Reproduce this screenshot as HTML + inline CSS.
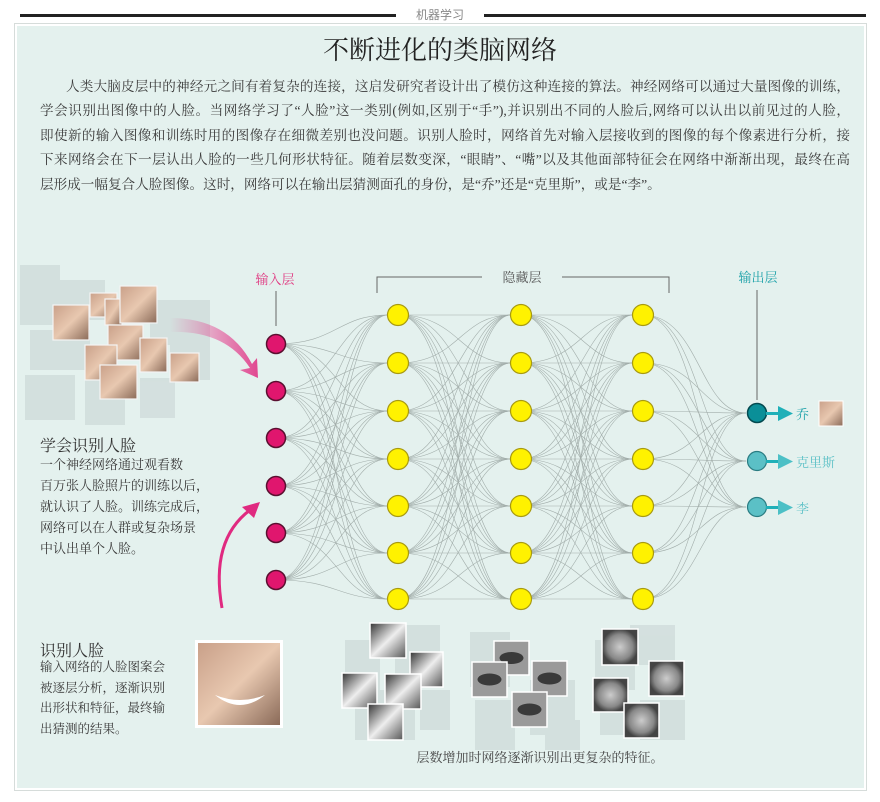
<!DOCTYPE html>
<html><head><meta charset="utf-8">
<style>
html,body{margin:0;padding:0;background:#fff;}
body{width:880px;height:802px;position:relative;overflow:hidden;font-family:"Liberation Serif","Noto Serif CJK SC",serif;color:#333;}
.abs{position:absolute;}
.ln{position:absolute;left:40px;width:810px;font-size:13.6px;text-align:justify;text-align-last:justify;white-space:nowrap;color:#3a3a3a;}
.t{position:absolute;font-size:13px;color:#3a3a3a;white-space:nowrap;}
</style></head><body>
<div class="abs" style="left:20px;top:14px;width:846px;height:3px;background:#222;"></div>
<div class="abs" style="left:396px;top:5px;width:88px;height:20px;background:#fff;text-align:center;font-family:'Liberation Sans','Noto Sans CJK SC',sans-serif;font-size:12px;line-height:20px;color:#888;">机器学习</div>
<div class="abs" style="left:14px;top:23px;width:851px;height:766px;background:#e4f1ee;border:1px solid #d6dcda;box-shadow:0 0 0 2px #fff inset;"></div>
<div class="abs" style="left:0;top:30px;width:880px;text-align:center;font-size:26px;color:#222;font-family:'Noto Serif CJK SC',serif;">不断进化的类脑网络</div>
<div class="ln" style="top:75px;left:66px;width:784px;">人类大脑皮层中的神经元之间有着复杂的连接，这启发研究者设计出了模仿这种连接的算法。神经网络可以通过大量图像的训练，</div>
<div class="ln" style="top:99px;">学会识别出图像中的人脸。当网络学习了“人脸”这一类别(例如,区别于“手”),并识别出不同的人脸后,网络可以认出以前见过的人脸，</div>
<div class="ln" style="top:124px;">即使新的输入图像和训练时用的图像存在细微差别也没问题。识别人脸时，网络首先对输入层接收到的图像的每个像素进行分析，接</div>
<div class="ln" style="top:148px;">下来网络会在下一层认出人脸的一些几何形状特征。随着层数变深，“眼睛”、“嘴”以及其他面部特征会在网络中渐渐出现，最终在高</div>
<div class="ln" style="top:173px;text-align-last:left;">层形成一幅复合人脸图像。这时，网络可以在输出层猜测面孔的身份，是“乔”还是“克里斯”，或是“李”。</div>

<svg class="abs" style="left:0;top:0" width="880" height="802" id="sv">
<defs>
<linearGradient id="pk" x1="0" y1="0" x2="1" y2="0"><stop offset="0" stop-color="#e8368a" stop-opacity="0"/><stop offset="1" stop-color="#e02a80"/></linearGradient>
<linearGradient id="sk" x1="0" y1="0" x2="1" y2="1"><stop offset="0" stop-color="#c9a089"/><stop offset="0.5" stop-color="#e8c8b0"/><stop offset="1" stop-color="#8a6a58"/></linearGradient>
<linearGradient id="gr" x1="0" y1="0" x2="1" y2="1"><stop offset="0" stop-color="#333"/><stop offset="0.5" stop-color="#eee"/><stop offset="1" stop-color="#555"/></linearGradient>
<radialGradient id="gf"><stop offset="0" stop-color="#ccc"/><stop offset="0.7" stop-color="#888"/><stop offset="1" stop-color="#444"/></radialGradient>
</defs>
<g id="bg" fill="#c9d6d5" opacity="0.6"></g>
<g id="lines" fill="none" stroke="#8c9794" stroke-width="0.6" opacity="0.75"></g>
<g id="tiles"></g>
<!-- labels -->
<text x="275" y="284" text-anchor="middle" font-size="13" fill="#e0357f" font-family="Noto Serif CJK SC">输入层</text>
<line x1="276" y1="291" x2="276" y2="326" stroke="#666" stroke-width="1"/>
<text x="522" y="282" text-anchor="middle" font-size="13" fill="#555" font-family="Noto Serif CJK SC">隐藏层</text>
<path d="M377 293 V277 H482 M562 277 H669 V293" fill="none" stroke="#666" stroke-width="1"/>
<text x="758" y="282" text-anchor="middle" font-size="13" fill="#1aa0a8" font-family="Noto Serif CJK SC">输出层</text>
<line x1="757" y1="290" x2="757" y2="400" stroke="#666" stroke-width="1"/>
<!-- pink arrows -->
<path d="M170 332 Q225 330 250 368 L240 370 L258 378 L257 358 L252 364 Q228 318 170 318 Z" fill="url(#pk)" opacity="0.85"/>
<path d="M222 608 Q210 540 250 510" fill="none" stroke="#e02a80" stroke-width="3"/>
<path d="M260 502 L242 507 L254 518 Z" fill="#e02a80"/>
<g id="nodes"></g>
<!-- output arrows -->
<g fill="#1fb0b8">
<rect x="766" y="412" width="14" height="3"/><path d="M778 406 L793 413.5 L778 421 Z"/>
<rect x="766" y="460" width="14" height="3"/><path d="M778 454 L793 461.5 L778 469 Z" fill="#4cc0c6"/>
<rect x="766" y="506" width="14" height="3"/><path d="M778 500 L793 507.5 L778 515 Z" fill="#4cc0c6"/>
</g>
<text x="796" y="419" font-size="13" fill="#1aa0a8" font-family="Noto Serif CJK SC">乔</text>
<text x="796" y="467" font-size="13" fill="#5bc0c6" font-family="Noto Serif CJK SC">克里斯</text>
<text x="796" y="513" font-size="13" fill="#5bc0c6" font-family="Noto Serif CJK SC">李</text>
<rect x="819" y="401" width="24" height="25" fill="url(#sk)" stroke="#fff" stroke-width="1"/>
<!-- big face -->
<rect x="195" y="640" width="88" height="88" fill="#fff" />
<rect x="198" y="643" width="82" height="82" fill="url(#sk)"/>
<path d="M215 695 Q240 715 265 695 Q240 705 215 695Z" fill="#fff"/>
<text x="540" y="762" text-anchor="middle" font-size="13" fill="#444" font-family="Noto Serif CJK SC">层数增加时网络逐渐识别出更复杂的特征。</text>
</svg>

<div class="t" style="left:40px;top:433px;font-size:16px;color:#333;">学会识别人脸</div>
<div class="t" style="left:40px;top:454px;line-height:21px;">一个神经网络通过观看数<br>百万张人脸照片的训练以后，<br>就认识了人脸。训练完成后，<br>网络可以在人群或复杂场景<br>中认出单个人脸。</div>
<div class="t" style="left:40px;top:638px;font-size:16px;color:#333;">识别人脸</div>
<div class="t" style="left:40px;top:657px;line-height:20.5px;font-size:12.5px;">输入网络的人脸图案会<br>被逐层分析，逐渐识别<br>出形状和特征，最终输<br>出猜测的结果。</div>

<script>
var NS="http://www.w3.org/2000/svg";
function el(p,t,a){var e=document.createElementNS(NS,t);for(var k in a)e.setAttribute(k,a[k]);p.appendChild(e);return e;}
var inY=[344,391,438,486,533,580],hY=[315,363,411,459,506,553,599],oY=[413,461,507];
var cols=[[276,inY],[398,hY],[521,hY],[643,hY],[756,oY]];
var L=document.getElementById('lines');
for(var c=0;c<4;c++){var a=cols[c],b=cols[c+1];var mx=(a[0]+b[0])/2;
 for(var i=0;i<a[1].length;i++)for(var j=0;j<b[1].length;j++){
  el(L,'path',{d:'M'+a[0]+' '+a[1][i]+' C'+mx+' '+a[1][i]+' '+mx+' '+b[1][j]+' '+(b[0]-10)+' '+b[1][j]});}}
var N=document.getElementById('nodes');
inY.forEach(function(y){el(N,'circle',{cx:276,cy:y,r:9.5,fill:'#e0166e',stroke:'#5a1030','stroke-width':1.5});});
[398,521,643].forEach(function(x){hY.forEach(function(y){el(N,'circle',{cx:x,cy:y,r:10.5,fill:'#fff200',stroke:'#a89a10','stroke-width':1.2});});});
el(N,'circle',{cx:757,cy:413,r:9.5,fill:'#0a8f98',stroke:'#034a50','stroke-width':1.5});
el(N,'circle',{cx:757,cy:461,r:9.5,fill:'#5bc0c6',stroke:'#2a7c82','stroke-width':1.2});
el(N,'circle',{cx:757,cy:507,r:9.5,fill:'#5bc0c6',stroke:'#2a7c82','stroke-width':1.2});
var B=document.getElementById('bg');
[[20,265,40,60],[55,280,50,40],[30,330,60,40],[150,300,60,45],[170,330,40,50],[25,375,50,45],[85,375,40,50],[140,378,35,40],[345,640,35,60],[395,625,45,60],[355,690,60,50],[420,690,30,40],[470,632,40,55],[475,700,40,50],[530,680,45,55],[545,720,35,30],[595,640,40,50],[630,625,45,40],[640,700,45,40],[600,705,30,30]].forEach(function(r){el(B,'rect',{x:r[0],y:r[1],width:r[2],height:r[3]});});
var T=document.getElementById('tiles');
var faces=[[53,305,36,35],[90,293,27,24],[105,299,17,26],[120,286,37,37],[108,325,35,35],[85,345,32,35],[140,338,27,34],[170,353,29,29],[100,365,37,34]];
faces.forEach(function(f){el(T,'rect',{x:f[0],y:f[1],width:f[2],height:f[3],fill:'url(#sk)',stroke:'#f4f4f4','stroke-width':1.2});});
var g1=[[370,623,36,35],[410,652,33,35],[342,673,35,35],[385,674,36,35],[368,704,35,36]];
g1.forEach(function(f){el(T,'rect',{x:f[0],y:f[1],width:f[2],height:f[3],fill:'url(#gr)',stroke:'#fff','stroke-width':1.5});});
var g2=[[494,641,35,34],[472,662,35,35],[532,661,35,35],[512,692,35,35]];
g2.forEach(function(f){el(T,'rect',{x:f[0],y:f[1],width:f[2],height:f[3],fill:'#9a9a9a',stroke:'#fff','stroke-width':1.5});
 el(T,'ellipse',{cx:f[0]+f[2]/2,cy:f[1]+f[3]/2,rx:12,ry:6,fill:'#3a3a3a'});});
var g3=[[602,629,36,36],[649,661,35,35],[593,678,35,34],[624,703,35,35]];
g3.forEach(function(f){el(T,'rect',{x:f[0],y:f[1],width:f[2],height:f[3],fill:'url(#gf)',stroke:'#fff','stroke-width':1.5});});
</script>
</body></html>
